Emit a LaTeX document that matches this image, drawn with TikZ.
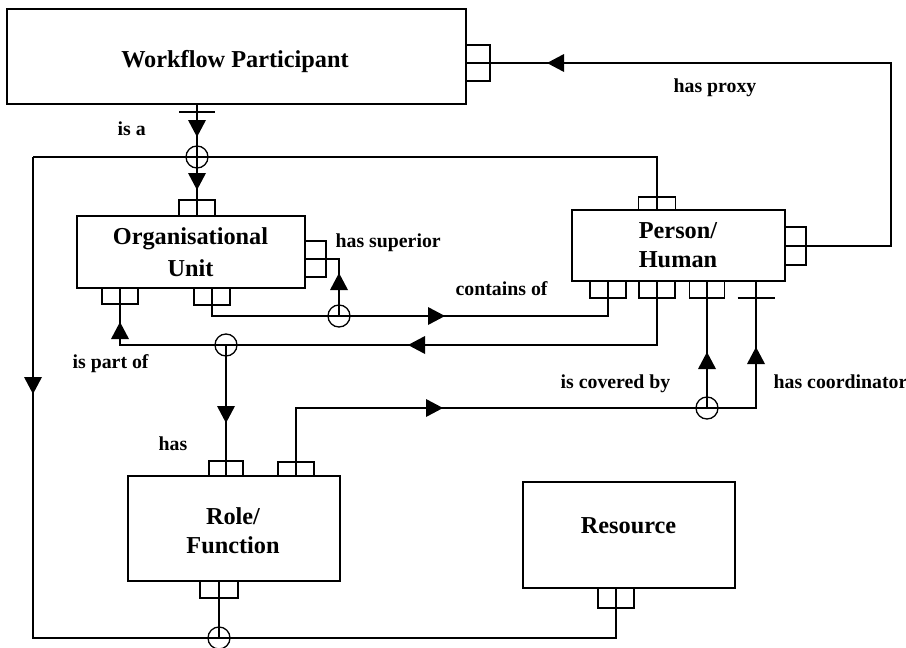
\documentclass[tikz,border=0pt]{standalone}
\usepackage{fontspec}
\setmainfont{Liberation Serif}
\begin{document}
\begin{tikzpicture}[x=1pt,y=-1pt,line width=1.3pt,
  entity/.style={draw,rectangle,inner sep=0pt,outer sep=0pt,anchor=north west},
  port/.style={draw,rectangle,inner sep=0pt,outer sep=0pt},
  title/.style={font=\bfseries\fontsize{24.3}{29}\selectfont,anchor=base,inner sep=0pt},
  rel/.style={font=\bfseries\fontsize{19.8}{24}\selectfont,anchor=base west,inner sep=0pt},
  tip/.pic={\fill (0,0) -- (-17,-9) -- (-17,9) -- cycle;},
  junction/.style={radius=11pt}]
\useasboundingbox (0,0) rectangle (906,648);

% entities
\node[entity,minimum width=459pt,minimum height=95pt] (wp) at (7,9) {};
\node[entity,minimum width=228pt,minimum height=72pt] (org) at (77,216) {};
\node[entity,minimum width=213pt,minimum height=71pt] (person) at (572,210) {};
\node[entity,minimum width=212pt,minimum height=105pt] (role) at (128,476) {};
\node[entity,minimum width=212pt,minimum height=106pt] (resource) at (523,482) {};

% entity names
\node[title] (wpText) at (235,67) {Workflow Participant};
\node[title] (orgText1) at (190.5,244) {Organisational};
\node[title] (orgText2) at (190.5,276) {Unit};
\node[title] (perText1) at (678,238) {Person/};
\node[title] (perText2) at (678,267) {Human};
\node[title] (roleText1) at (233,524) {Role/};
\node[title] (roleText2) at (233,553) {Function};
\node[title] (resText) at (628.5,533) {Resource};

% ports
\node[port,minimum width=24pt,minimum height=36pt] (wpR) at (478,63) {};
\node[port,minimum width=36pt,minimum height=16pt] (orgT) at (197,208) {};
\node[port,minimum width=21pt,minimum height=36pt] (orgR) at (315.5,259) {};
\node[port,minimum width=36pt,minimum height=16pt] (orgB1) at (120,296) {};
\node[port,minimum width=36pt,minimum height=17pt] (orgB2) at (212,296.5) {};
\node[port,minimum width=37pt,minimum height=13pt] (perT) at (657,203.5) {};
\node[port,minimum width=21pt,minimum height=38pt] (perR) at (795.5,246) {};
\node[port,minimum width=36pt,minimum height=17pt] (perB1) at (608,289.5) {};
\node[port,minimum width=36pt,minimum height=17pt] (perB2) at (657,289.5) {};
\node[port,minimum width=35pt,minimum height=17pt] (perB3) at (707,289.5) {};
\node[port,minimum width=34pt,minimum height=15pt] (roleT1) at (226,468.5) {};
\node[port,minimum width=36pt,minimum height=14pt] (roleT2) at (296,469) {};
\node[port,minimum width=38pt,minimum height=17pt] (roleB) at (219,589.5) {};
\node[port,minimum width=36pt,minimum height=20pt] (resB) at (616,598) {};
\coordinate (perTee) at (756,281);

% junctions and bends
\coordinate (c1) at (197,157);
\coordinate (c2) at (339,316);
\coordinate (c3) at (226,345);
\coordinate (c4) at (219,638);
\coordinate (c5) at (707,408);
\coordinate (leftTop) at (33,157);
\coordinate (leftBot) at (33,638);
\coordinate (proxyCorner) at (891,63);
\coordinate (superCorner) at (339,259);
\coordinate (teeA) at (197,112);
\coordinate (teeB) at (756,298);

% connectors
\draw (orgT.south |- wp.south) -- (orgT.south);
\draw ([xshift=-18pt]teeA) -- ([xshift=18pt]teeA);
\draw (leftTop) -- (perT.north |- leftTop) -- (perT.south);
\draw (leftTop) -- (leftBot) -- (resB.south |- leftBot) -- (resB.north);
\draw (roleB.north) -- (c4);
\draw (wpR.west) -- (proxyCorner) -- (proxyCorner |- perR.west) -- (perR.west);
\draw (orgR.west) -- (superCorner) -- (c2);
\draw (orgB2.north) -- (orgB2.north |- c2) -- (perB1.north |- c2) -- (perB1.north);
\draw (orgB1.north) -- (orgB1.north |- c3) -- (perB2.north |- c3) -- (perB2.north);
\draw (c3) -- (roleT1.south);
\draw (roleT2.south) -- (roleT2.south |- c5) -- (perTee |- c5) -- (perTee);
\draw (perB3.north) -- (c5);
\draw ([xshift=-18.5pt]teeB) -- ([xshift=18.5pt]teeB);

% junction circles
\foreach \c in {c1,c2,c3,c4,c5} \draw (\c) circle[junction];

% arrowheads
\pic[rotate=-90] at (197,137) {tip};
\pic[rotate=-90] at (197,190) {tip};
\pic[rotate=180] at (547,63) {tip};
\pic[rotate=90] at (339,273) {tip};
\pic at (445,316) {tip};
\pic[rotate=90] at (120,322) {tip};
\pic[rotate=180] at (408,345) {tip};
\pic[rotate=-90] at (226,423) {tip};
\pic at (443,408) {tip};
\pic[rotate=90] at (707,352) {tip};
\pic[rotate=90] at (756,347) {tip};
\pic[rotate=-90] at (33,394) {tip};

% relationship names
\node[rel] (lIsA) at (117,135) {is a};
\node[rel] (lProxy) at (673,92) {has proxy};
\node[rel] (lSuperior) at (335,247) {has superior};
\node[rel] (lContains) at (455,295) {contains of};
\node[rel] (lPartOf) at (72,368) {is part of};
\node[rel] (lCovered) at (560,388) {is covered by};
\node[rel] (lCoord) at (773,388) {has coordinator};
\node[rel] (lHas) at (158,450) {has};
\end{tikzpicture}
\end{document}
